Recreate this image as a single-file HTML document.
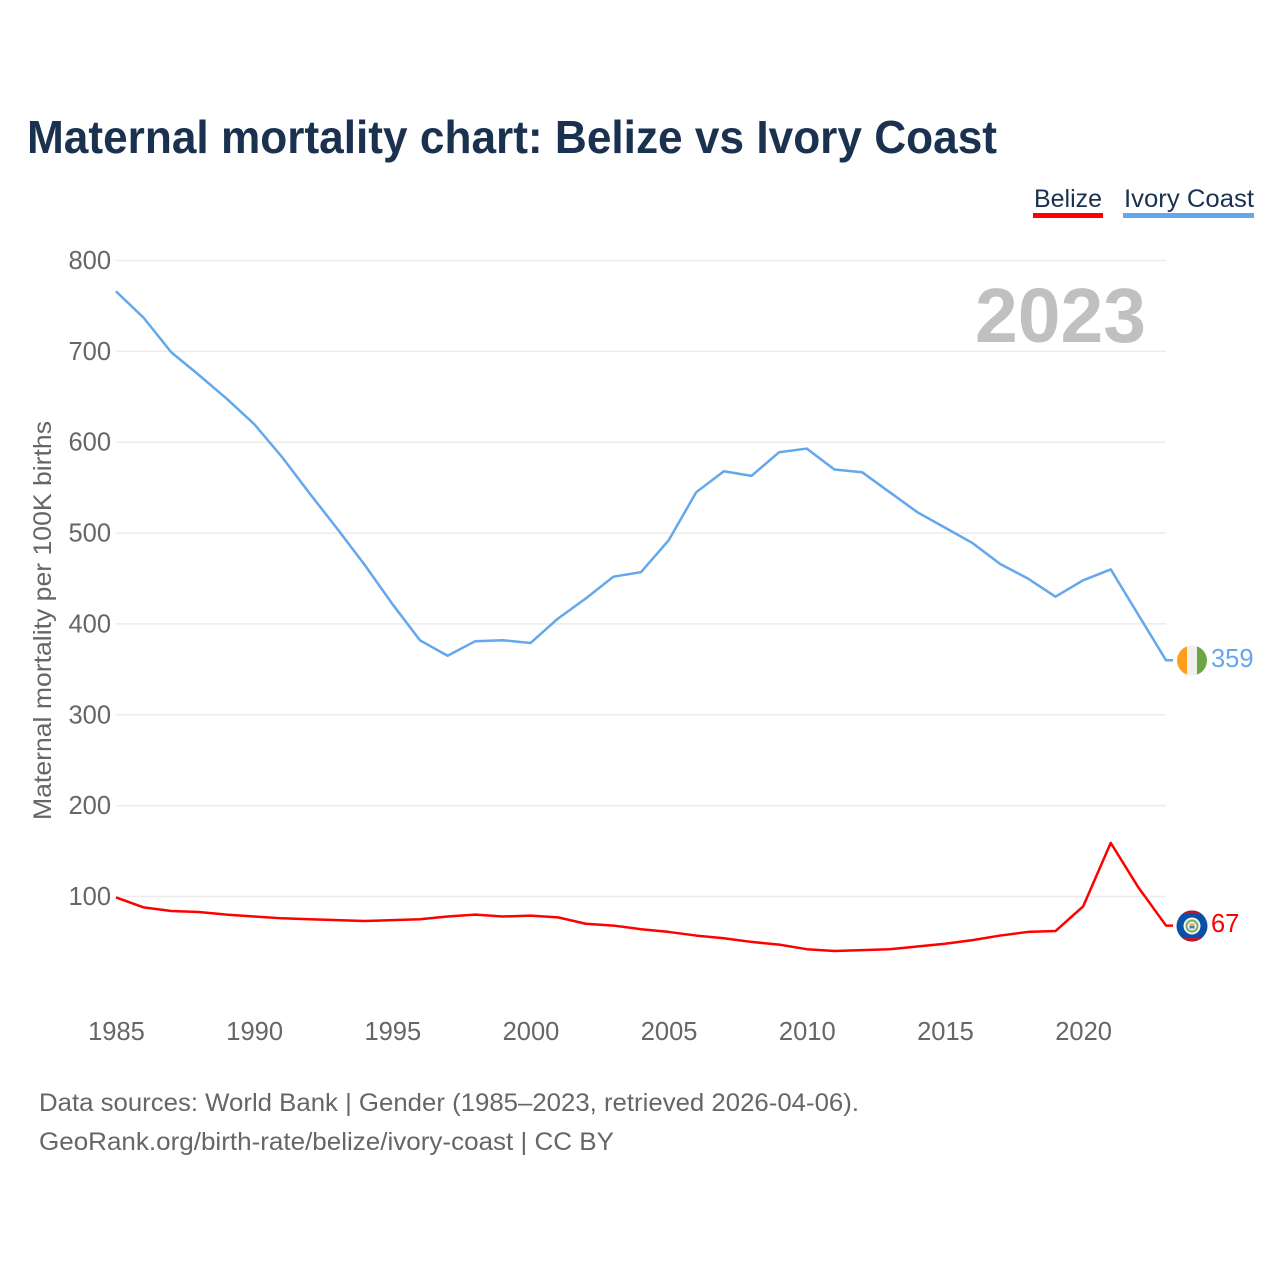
<!DOCTYPE html>
<html lang="en">
<head>
<meta charset="utf-8">
<title>Maternal mortality chart: Belize vs Ivory Coast</title>
<style>
html,body{margin:0;padding:0;background:#fff;width:1280px;height:1280px;overflow:hidden}
svg{display:block}
text{font-family:"Liberation Sans",sans-serif}
</style>
</head>
<body>
<svg id="chart" xmlns="http://www.w3.org/2000/svg" width="1280" height="1280" viewBox="0 0 1280 1280">
  <defs>
    <clipPath id="clip-ivory"><circle cx="1192" cy="660.5" r="15"/></clipPath>
    <clipPath id="clip-belize"><circle cx="1192" cy="926" r="15.5"/></clipPath>
  </defs>
  <rect width="1280" height="1280" fill="#ffffff"/>
  <text x="27" y="153" font-size="46" font-weight="700" fill="#1a3150" textLength="970" lengthAdjust="spacingAndGlyphs">Maternal mortality chart: Belize vs Ivory Coast</text>

  <g>
    <g>
      <text x="1034" y="207" font-size="25" fill="#1a3150" textLength="68" lengthAdjust="spacingAndGlyphs">Belize</text>
      <rect x="1033" y="213" width="70" height="5" fill="#ff0000"/>
    </g>
    <g>
      <text x="1124" y="207" font-size="25" fill="#1a3150" textLength="130" lengthAdjust="spacingAndGlyphs">Ivory Coast</text>
      <rect x="1123" y="213" width="131" height="5" fill="#63a7ec"/>
    </g>
  </g>

  <g id="grid"></g>
  <g id="y-ticks"></g>
  <g id="x-ticks"></g>

  <text transform="translate(51,620.5) rotate(-90)" text-anchor="middle" font-size="25" fill="#666666" textLength="399" lengthAdjust="spacingAndGlyphs">Maternal mortality per 100K births</text>
  <text x="975" y="342" font-size="77" font-weight="700" fill="#c0c0c0" textLength="171" lengthAdjust="spacingAndGlyphs">2023</text>

  <g id="series"></g>

  <g clip-path="url(#clip-ivory)">
    <rect x="1177" y="645" width="10" height="31" fill="#ff9f1c"/>
    <rect x="1187" y="645" width="10" height="31" fill="#f0f0f0"/>
    <rect x="1197" y="645" width="10" height="31" fill="#6da544"/>
  </g>
  <g clip-path="url(#clip-belize)">
    <rect x="1176" y="910" width="32" height="32" fill="#0a50a8"/>
    <rect x="1176" y="910" width="32" height="4" fill="#b8162c"/>
    <rect x="1176" y="938" width="32" height="4" fill="#b8162c"/>
    <circle cx="1192" cy="926" r="8.5" fill="#f4f4f4"/>
    <circle cx="1192" cy="926" r="6.5" fill="#7fae5a"/>
    <circle cx="1192" cy="926" r="4.5" fill="#f4f4f4"/>
    <rect x="1189.5" y="923.5" width="5" height="2.5" fill="#e8b040"/>
    <rect x="1189.5" y="926" width="5" height="2.5" fill="#3f7fc0"/>
  </g>
  <text x="1211" y="667" font-size="25.5" fill="#63a7ec">359</text>
  <text x="1211" y="932" font-size="25.5" fill="#ff0000">67</text>

  <text x="39" y="1111" font-size="25" fill="#666666" textLength="820" lengthAdjust="spacingAndGlyphs">Data sources: World Bank | Gender (1985–2023, retrieved 2026-04-06).</text>
  <text x="39" y="1150" font-size="25" fill="#666666" textLength="575" lengthAdjust="spacingAndGlyphs">GeoRank.org/birth-rate/belize/ivory-coast | CC BY</text>
</svg>
<script>
const years = [1985,1986,1987,1988,1989,1990,1991,1992,1993,1994,1995,1996,1997,1998,1999,2000,2001,2002,2003,2004,2005,2006,2007,2008,2009,2010,2011,2012,2013,2014,2015,2016,2017,2018,2019,2020,2021,2022,2023];
const ivoryCoast = [766,737,699,674,648,620,584,544,505,465,422,382,365,381,382,379,406,428,452,457,492,545,568,563,589,593,570,567,545,523,506,489,466,450,430,448,460,410,360];
const belize = [99,88,84,83,80,78,76,75,74,73,74,75,78,80,78,79,77,70,68,64,61,57,54,50,47,42,40,41,42,45,48,52,57,61,62,89,159,110,68];
const yTickValues = [100,200,300,400,500,600,700,800];
const xTickValues = [1985,1990,1995,2000,2005,2010,2015,2020];

const NS = 'http://www.w3.org/2000/svg';
function xScale(year) { return 116 + (year - 1985) * (1166 - 116) / 38; }
function yScale(value) { return 896.5 - (value - 100) * (896.5 - 260.5) / 700; }

function make(tag, attrs, parent) {
  const el = document.createElementNS(NS, tag);
  for (const k in attrs) el.setAttribute(k, attrs[k]);
  parent.appendChild(el);
  return el;
}

const gridGroup = document.getElementById('grid');
const yGroup = document.getElementById('y-ticks');
const xGroup = document.getElementById('x-ticks');
const seriesGroup = document.getElementById('series');

yTickValues.forEach(function (v) {
  const line = make('line', {x1: 116, x2: 1166, y1: yScale(v), y2: yScale(v), stroke: '#ececec', 'stroke-width': 1.5}, gridGroup);
  
  
  const label = make('text', {x: 111, y: yScale(v) + 8.5, 'text-anchor': 'end', 'font-size': 25.5, fill: '#666666'}, yGroup);
  label.textContent = v;
  
  
});

xTickValues.forEach(function (v) {
  const label = make('text', {x: xScale(v) + 0.5, y: 1040, 'text-anchor': 'middle', 'font-size': 25.5, fill: '#666666'}, xGroup);
  label.textContent = v;
  
  
});

function linePoints(values) {
  const pts = values.map(function (v, i) { return xScale(years[i]).toFixed(2) + ',' + yScale(v).toFixed(2); });
  const last = values[values.length - 1];
  pts.push((xScale(years[years.length - 1]) + 7).toFixed(2) + ',' + yScale(last).toFixed(2));
  return pts.join(' ');
}

const belizeLine = make('polyline', {points: linePoints(belize), fill: 'none', stroke: '#ff0000', 'stroke-width': 2.5, 'stroke-linejoin': 'round'}, seriesGroup);



const ivoryLine = make('polyline', {points: linePoints(ivoryCoast), fill: 'none', stroke: '#63a7ec', 'stroke-width': 2.5, 'stroke-linejoin': 'round'}, seriesGroup);


</script>
</body>
</html>
